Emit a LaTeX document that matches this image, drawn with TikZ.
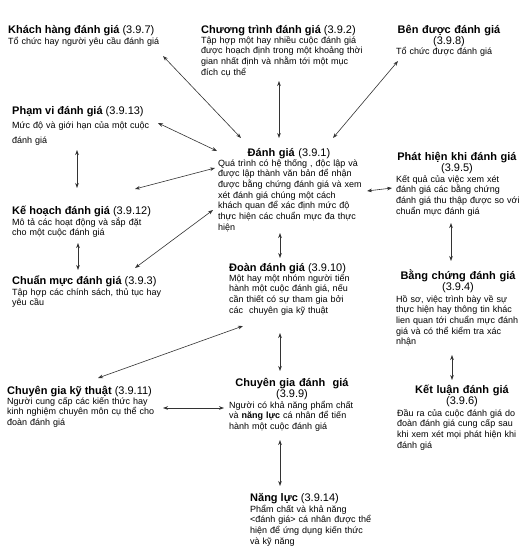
\documentclass[tikz,border=0pt]{standalone}
\usepackage{fontspec}
\setmainfont{Liberation Sans}
\usetikzlibrary{arrows.meta}
\newcommand\ttlfont{\fontsize{11}{11}\selectfont}
\newcommand\bdyfont{\fontsize{9}{10.7}\selectfont}
\newcommand\jline[1]{\hbox to\linewidth{#1}\par}
\begin{document}
\begin{tikzpicture}[x=1pt,y=-1pt,
  ttl/.style={anchor=base west, inner sep=0pt, font=\ttlfont},
  ttlc/.style={anchor=base, inner sep=0pt, align=center, text width=#1, font=\ttlfont},
  bdy/.style={anchor=base west, inner sep=0pt, text width=#1, align=left, font=\bdyfont},
  arr/.style={draw=black!80, line width=0.6pt, {Stealth[length=5pt,width=3.6pt]}-{Stealth[length=5pt,width=3.6pt]}}]
\fill[white] (0,0) rectangle (527,555);
\useasboundingbox (0,0) rectangle (527,555);

\node[ttl] (kh) at (8,33) {\textbf{Khách hàng đánh giá} (3.9.7)};
\node[bdy=160] (khb) at (8,44) {Tổ chức hay người yêu cầu đánh giá};

\node[ttl] (ct) at (201,33) {\textbf{Chương trình đánh giá} (3.9.2)};
\node[bdy=162] (ctb) at (201,43) {\jline{Tập hợp một hay nhiều cuộc đánh giá}\jline{được hoạch định trong một khoảng thời}\jline{gian nhất định và nhằm tới một mục}đích cụ thể};

\node[ttlc=130] (ben) at (449,33) {\textbf{Bên được đánh giá}\\(3.9.8)};
\node[bdy=125] (benb) at (396,54) {Tổ chức được đánh giá};

\node[ttl] (pv) at (12,114) {\textbf{Phạm vi đánh giá} (3.9.13)};
\node[bdy=160,font=\fontsize{9}{15.5}\selectfont] (pvb) at (12,128) {Mức độ và giới hạn của một cuộc\\đánh giá};

\node[ttl] (kp) at (12,214) {\textbf{Kế hoạch đánh giá} (3.9.12)};
\node[bdy=160] (kpb) at (12,225) {Mô tả các hoạt động và sắp đặt\\cho một cuộc đánh giá};

\node[ttl] (cm) at (12,284) {\textbf{Chuẩn mực đánh giá} (3.9.3)};
\node[bdy=170] (cmb) at (12,295) {Tập hợp các chính sách, thủ tục hay\\yêu cầu};

\node[ttlc=150] (dg) at (289,156) {\textbf{Đánh giá} (3.9.1)};
\node[bdy=144] (dgb) at (218,166) {\jline{Quá trình có hệ thống , độc lập và}\jline{được lập thành văn bản để nhận}\jline{được bằng chứng đánh giá và xem}\jline{xét đánh giá chúng một cách}\jline{khách quan để xác định mức độ}\jline{thực hiện các chuẩn mực đa thực}hiện};

\node[ttlc=130] (ph) at (457,160) {\textbf{Phát hiện khi đánh giá}\\(3.9.5)};
\node[bdy=120] (phb) at (396,182) {\jline{Kết quả của việc xem xét}\jline{đánh giá các bằng chứng}\jline{đánh giá thu thập được so với}chuẩn mực đánh giá};

\node[ttl] (doan) at (229,271) {\textbf{Đoàn đánh giá} (3.9.10)};
\node[bdy=130] (doanb) at (229,281) {Một hay một nhóm người tiến\\hành một cuộc đánh giá, nếu\\cần thiết có sự tham gia bởi\\các\ \ chuyên gia kỹ thuật};

\node[ttlc=130] (bc) at (458,279) {\textbf{Bằng chứng đánh giá}\\(3.9.4)};
\node[bdy=121] (bcb) at (396,302) {\jline{Hồ sơ, việc trình bày về sự}\jline{thực hiện hay thông tin khác}\jline{lien quan tới chuẩn mực đánh}\jline{giá và có thể kiểm tra xác}nhận};

\node[ttl] (cgkt) at (7,394) {\textbf{Chuyên gia kỹ thuật} (3.9.11)};
\node[bdy=150] (cgktb) at (7,404) {\jline{Người cung cấp các kiến thức hay}\jline{kinh nghiệm chuyên môn cụ thể cho}đoàn đánh giá};

\node[ttlc=130] (cgdg) at (292,386) {\textbf{Chuyên gia đánh\ \ giá}\\(3.9.9)};
\node[bdy=130] (cgdgb) at (229,408) {Người có khả năng phẩm chất\\và \textbf{năng lực} cá nhân để tiến\\hành một cuộc đánh giá};

\node[ttlc=130] (kl) at (462,393) {\textbf{Kết luận đánh giá}\\(3.9.6)};
\node[bdy=118] (klb) at (397,416) {\jline{Đầu ra của cuộc đánh giá do}\jline{đoàn đánh giá cung cấp sau}\jline{khi xem xét mọi phát hiện khi}đánh giá};

\node[ttl] (nl) at (250,501) {\textbf{Năng lực} (3.9.14)};
\node[bdy=135] (nlb) at (250,512) {Phẩm chất và khả năng\\<đánh giá> cá nhân được thể\\hiện để ứng dụng kiến thức\\và kỹ năng};

% connectors
\draw[arr] ([shift={(155,12)}]khb.base west) -- ([shift={(-48,-18)}]dg.base);
\draw[arr] ([shift={(78,38)}]ctb.base west) -- ([shift={(-10,-18)}]dg.base);
\draw[arr] ([shift={(2,7)}]benb.base west) -- ([shift={(44,-18)}]dg.base);
\draw[arr] ([shift={(146,-5)}]pvb.base west) -- ([shift={(-1,-15)}]dgb.base west);
\draw[arr] ([shift={(65,22)}]pvb.base west) -- ([shift={(65,-26)}]kp.base west);
\draw[arr] ([shift={(123,-25)}]kp.base west) -- ([shift={(-3,2)}]dgb.base west);
\draw[arr] ([shift={(123,-16)}]cm.base west) -- ([shift={(-5,44)}]dgb.base west);
\draw[arr] ([shift={(66,18)}]kpb.base west) -- ([shift={(66,-14)}]cm.base west);
\draw[arr] ([shift={(149,25)}]dgb.base west) -- ([shift={(-4,6)}]phb.base west);
\draw[arr] ([shift={(62,67)}]dgb.base west) -- ([shift={(51,-13)}]doan.base west);
\draw[arr] ([shift={(55,41)}]phb.base west) -- ([shift={(-7,-18)}]bc.base);
\draw[arr] ([shift={(56,53)}]bcb.base west) -- ([shift={(-10,-13)}]kl.base);
\draw[arr] ([shift={(14,45)}]doanb.base west) -- ([shift={(91,-16)}]cgkt.base west);
\draw[arr] ([shift={(51,52)}]doanb.base west) -- ([shift={(-12,-15)}]cgdg.base);
\draw[arr] ([shift={(156,4)}]cgktb.base west) -- ([shift={(-5,0)}]cgdgb.base west);
\draw[arr] ([shift={(51,32)}]cgdgb.base west) -- ([shift={(30,-15)}]nl.base west);
\end{tikzpicture}
\end{document}
